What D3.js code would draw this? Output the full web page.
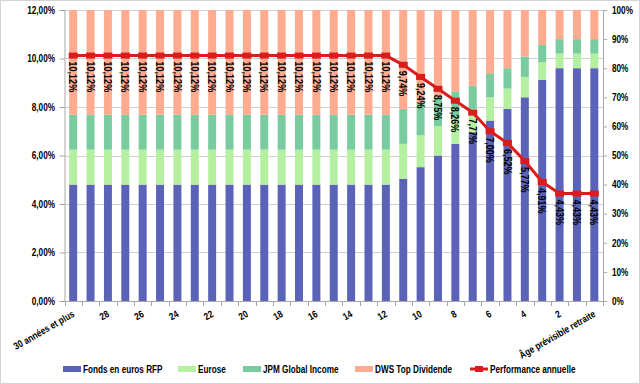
<!DOCTYPE html>
<html>
<head>
<meta charset="utf-8">
<script src="https://cdn.jsdelivr.net/npm/d3@7"></script>
<style>
body { margin: 0; background: #fff; }
text { font-family: "Liberation Sans", Arial, sans-serif; font-weight: bold; fill: #000; }
</style>
</head>
<body>
<script>
var categories = ["30 années et plus", "29", "28", "27", "26", "25", "24", "23", "22", "21", "20",
    "19", "18", "17", "16", "15", "14", "13", "12", "11", "10", "9", "8", "7", "6", "5", "4", "3", "2", "1",
    "Âge prévisible retraite"];

// parts of the allocation, in % (right axis)
var fondsEuros = [40, 40, 40, 40, 40, 40, 40, 40, 40, 40, 40, 40, 40, 40, 40, 40, 40, 40, 40,
    42, 46, 50, 54, 58, 62, 66, 70, 76, 80, 80, 80];
var eurose = [12, 12, 12, 12, 12, 12, 12, 12, 12, 12, 12, 12, 12, 12, 12, 12, 12, 12, 12,
    12, 11, 10, 9, 8, 8, 7, 7, 6, 5, 5, 5];
var jpmGlobal = [12, 12, 12, 12, 12, 12, 12, 12, 12, 12, 12, 12, 12, 12, 12, 12, 12, 12, 12,
    12, 11, 10, 9, 8, 8, 7, 7, 6, 5, 5, 5];
var dwsTop = [36, 36, 36, 36, 36, 36, 36, 36, 36, 36, 36, 36, 36, 36, 36, 36, 36, 36, 36,
    34, 32, 30, 28, 26, 22, 20, 16, 12, 10, 10, 10];

// annual performance, in % (left axis)
var performance = [10.12, 10.12, 10.12, 10.12, 10.12, 10.12, 10.12, 10.12, 10.12, 10.12, 10.12,
    10.12, 10.12, 10.12, 10.12, 10.12, 10.12, 10.12, 10.12,
    9.74, 9.24, 8.75, 8.26, 7.77, 7.00, 6.52, 5.77, 4.91, 4.43, 4.43, 4.43];

var seriesNames = ["Fonds en euros RFP", "Eurose", "JPM Global Income", "DWS Top Dividende"];
var lineName = "Performance annuelle";
var leftTicks = [0, 0.02, 0.04, 0.06, 0.08, 0.10, 0.12];
var rightTicks = [0, 0.1, 0.2, 0.3, 0.4, 0.5, 0.6, 0.7, 0.8, 0.9, 1];

var colors = ["#5b63b9", "#b4f0a0", "#78cc9f", "#ffab90"];
var red = "#dc1c1c";

var width = 640, height = 384;
var plotLeft = 64.5, plotRight = 603, plotTop = 10, plotBottom = 301;
var narrow = " scale(0.82,1)"; // the original font is a narrow one

var fr = d3.formatLocale({decimal: ",", thousands: " ", grouping: [3], currency: ["", " €"], percent: "%"});

var svg = d3.select("body").append("svg")
    .attr("width", width)
    .attr("height", height);

svg.append("rect")
    .attr("x", 0.5).attr("y", 0.5)
    .attr("width", width - 1).attr("height", height - 1)
    .attr("fill", "none").attr("stroke", "#d4d4d4");

var x = d3.scaleBand()
    .domain(categories)
    .range([plotLeft, plotRight])
    .paddingInner(0.54)
    .paddingOuter(0.27);

var yLeft = d3.scaleLinear().domain([0, 0.12]).range([plotBottom, plotTop]);
var yRight = d3.scaleLinear().domain([0, 1]).range([plotBottom, plotTop]);

var table = categories.map(function(c, i) {
    return {cat: c, s0: fondsEuros[i] / 100, s1: eurose[i] / 100, s2: jpmGlobal[i] / 100, s3: dwsTop[i] / 100};
});
var stacked = d3.stack().keys(["s0", "s1", "s2", "s3"])(table);

// grid
svg.append("g").selectAll("line")
    .data(leftTicks)
    .join("line")
    .attr("x1", plotLeft).attr("x2", plotRight)
    .attr("y1", function(d) { return Math.round(yLeft(d)) + 0.5; })
    .attr("y2", function(d) { return Math.round(yLeft(d)) + 0.5; })
    .attr("stroke", "#cfcfcf");

// bars
svg.append("g").selectAll("g")
    .data(stacked)
    .join("g")
    .attr("fill", function(d, i) { return colors[i]; })
    .selectAll("rect")
    .data(function(d) { return d; })
    .join("rect")
    .attr("x", function(d) { return x(d.data.cat); })
    .attr("width", x.bandwidth())
    .attr("y", function(d) { return yRight(d[1]); })
    .attr("height", function(d) { return yRight(d[0]) - yRight(d[1]); });

// axes
var axisColor = "#a8a8a8";
var gl = svg.append("g")
    .attr("transform", "translate(" + plotLeft + ",0)")
    .call(d3.axisLeft(yLeft).tickValues(leftTicks).tickFormat(fr.format(".2%")).tickSizeOuter(0).tickSize(5));
gl.selectAll("text").attr("x", null).attr("transform", "translate(-9.5,0)" + narrow);

var gr = svg.append("g")
    .attr("transform", "translate(" + plotRight + ",0)")
    .call(d3.axisRight(yRight).tickValues(rightTicks).tickFormat(fr.format(".0%")).tickSizeOuter(0).tickSize(4));
gr.selectAll("text").attr("x", null).attr("transform", "translate(9,0)" + narrow);

[gl, gr].forEach(function(g) {
    g.selectAll("path, line").attr("stroke", axisColor);
    g.selectAll("text").attr("font-size", 10).attr("font-family", null).attr("fill", "#000");
});

var gap = (x.step() - x.bandwidth()) / 2;
var bounds = categories.map(function(c) { return x(c) - gap; }).concat([plotRight]);
svg.append("line")
    .attr("x1", plotLeft).attr("x2", plotRight)
    .attr("y1", plotBottom + 0.5).attr("y2", plotBottom + 0.5)
    .attr("stroke", axisColor);
svg.append("g").selectAll("line")
    .data(bounds)
    .join("line")
    .attr("x1", function(d) { return Math.round(d) + 0.5; })
    .attr("x2", function(d) { return Math.round(d) + 0.5; })
    .attr("y1", plotBottom).attr("y2", plotBottom + 5)
    .attr("stroke", axisColor);

svg.append("g").selectAll("text")
    .data(categories.filter(function(c, i) { return i % 2 == 0; }))
    .join("text")
    .attr("transform", function(d) {
        return "translate(" + (x(d) + x.bandwidth() / 2 + 2) + "," + 316 + ") rotate(-30)" + narrow;
    })
    .attr("text-anchor", "end")
    .attr("font-size", 10)
    .text(function(d) { return d; });

// performance line
var line = d3.line()
    .x(function(d, i) { return x(categories[i]) + x.bandwidth() / 2; })
    .y(function(d) { return yLeft(d / 100); });

svg.append("path")
    .datum(performance)
    .attr("d", line)
    .attr("fill", "none")
    .attr("stroke", red)
    .attr("stroke-width", 3)
    .attr("stroke-linejoin", "round");

svg.append("g").selectAll("rect")
    .data(performance)
    .join("rect")
    .attr("x", function(d, i) { return x(categories[i]) + x.bandwidth() / 2 - 4.5; })
    .attr("y", function(d) { return yLeft(d / 100) - 3; })
    .attr("width", 9).attr("height", 6)
    .attr("fill", red);

svg.append("g").selectAll("text")
    .data(performance)
    .join("text")
    .attr("transform", function(d, i) {
        return "translate(" + (x(categories[i]) + x.bandwidth() / 2) + "," + (yLeft(d / 100) + 6) + ") rotate(90)" + narrow;
    })
    .attr("dy", "0.35em")
    .attr("font-size", 11)
    .text(function(d) { return fr.format(".2f")(d) + "%"; });

// legend
var legendY = 369;
var legendX = [63, 178, 243, 355];
seriesNames.forEach(function(name, i) {
    svg.append("rect")
        .attr("x", legendX[i]).attr("y", legendY - 3)
        .attr("width", 18).attr("height", 6)
        .attr("fill", colors[i]);
    svg.append("text")
        .attr("transform", "translate(" + (legendX[i] + 20) + "," + (legendY + 3.5) + ")" + narrow)
        .attr("font-size", 10)
        .text(name);
});
svg.append("line")
    .attr("x1", 470).attr("x2", 488)
    .attr("y1", legendY).attr("y2", legendY)
    .attr("stroke", red).attr("stroke-width", 3);
svg.append("rect")
    .attr("x", 475).attr("y", legendY - 3)
    .attr("width", 8).attr("height", 6)
    .attr("fill", red);
svg.append("text")
    .attr("transform", "translate(490," + (legendY + 3.5) + ")" + narrow)
    .attr("font-size", 10)
    .text(lineName);
</script>
</body>
</html>
